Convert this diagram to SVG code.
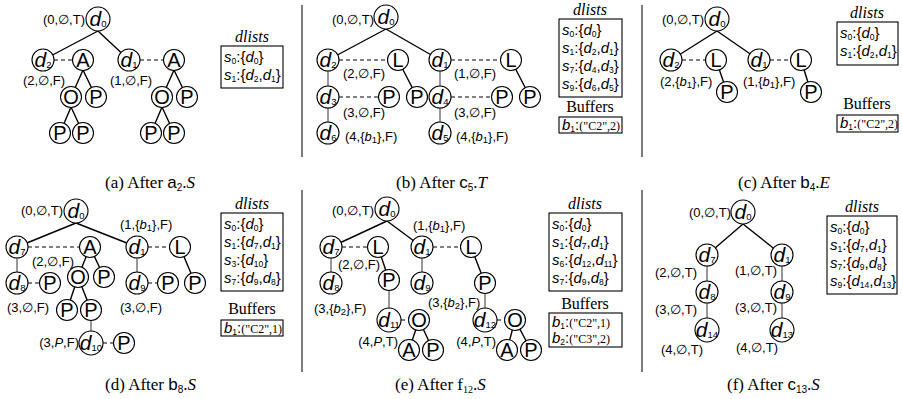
<svg xmlns="http://www.w3.org/2000/svg" width="902" height="399" viewBox="0 0 902 399">
<style>
text{font-family:"Liberation Sans",Arial,sans-serif;fill:#000}
.n{font-size:20px;text-anchor:middle}
.n tspan.it{font-size:21px}
.lb{font-size:13px}
.e{text-anchor:end}
.it{font-style:italic}
.sb{font-size:9.5px}
.rw{font-size:15px}
.rs{font-size:8.5px}
.q{font-family:"Liberation Serif","Times New Roman",serif;font-size:12px}
.cap{font-family:"Liberation Serif","Times New Roman",serif;font-size:17px}
.cs{font-family:"Liberation Sans",Arial,sans-serif}
.cb{font-size:10px}
.hd{font-family:"Liberation Serif","Times New Roman",serif;font-size:16px;text-anchor:middle}
circle{fill:#fff;stroke:#000;stroke-width:1.1}
.box{fill:none;stroke:#000;stroke-width:1.1}
.ed{stroke:#000;stroke-width:1.4;fill:none}
.vt{stroke:#333;stroke-width:1;fill:none}
.ds{stroke:#000;stroke-width:1.1;stroke-dasharray:4 3;fill:none}
.sep{stroke:#444;stroke-width:1.4}
</style>

<g id="separators">
<line class="sep" x1="302" y1="5" x2="302" y2="157"/>
<line class="sep" x1="642" y1="5" x2="642" y2="157"/>
<line class="sep" x1="302" y1="190" x2="302" y2="372"/>
<line class="sep" x1="642" y1="190" x2="642" y2="372"/>
</g>

<g id="connectors">
<!-- (a) -->
<path class="ed" d="M98,31L43,60M98,31L129,60M83,70L71,97M83,70L96,97M71,107L60,133M71,107L83,133M174,70L162,97M174,70L187,97M162,107L151,133M162,107L174,133"/>
<path class="ds" d="M54,60H72M140,60H163"/>
<!-- (b) -->
<path class="ed" d="M386,29L328,60M386,29L440,60M398,60L417,97M511,60L530,97"/>
<path class="vt" d="M328,60V133M440,60V133"/>
<path class="ds" d="M339,60H387M339,97H378M451,60H500M451,97H491"/>
<!-- (c) -->
<path class="ed" d="M717,31L671,60M717,31L759,60M716,60L727,92M801,60L811,92"/>
<path class="ds" d="M682,60H705M770,60H790"/>
<!-- (d) -->
<path class="ed" d="M76,223L17,247M76,223L137,247M90,247L78,277M90,247L104,277M78,277L67,310M78,277L91,310M180,247L195,283"/>
<path class="vt" d="M17,247V283M91,310V343M137,247V283"/>
<path class="ds" d="M28,247H79M28,283H39M103,343H113M148,247H169M148,283H157"/>
<!-- (e) -->
<path class="ed" d="M387,221L331,247M387,221L422,247M378,247L389,280M419,320L409,350M419,320L433,350M471,247L485,283M515,320L507,350M515,320L531,350"/>
<path class="vt" d="M331,247V283M389,280V320M422,247V283M485,283V320"/>
<path class="ds" d="M342,247H367M401,320H408M433,247H460M497,320H504"/>
<!-- (f) -->
<path class="ed" d="M743,224L707,255M743,224L782,255"/>
<path class="vt" d="M707,255V330M782,255V330"/>
</g>

<!-- ===== (a) ===== -->
<g id="a-d0"><circle cx="98" cy="19" r="12"/><text class="n" x="98" y="26"><tspan class="it">d</tspan><tspan class="sb" dy="1">0</tspan></text></g>
<g id="a-d2"><circle cx="43" cy="60" r="11"/><text class="n" x="43" y="67"><tspan class="it">d</tspan><tspan class="sb" dy="1">2</tspan></text></g>
<g id="a-A1"><circle cx="83" cy="60" r="10.5"/><text class="n" x="83" y="67">A</text></g>
<g id="a-d1"><circle cx="129" cy="60" r="11"/><text class="n" x="129" y="67"><tspan class="it">d</tspan><tspan class="sb" dy="1">1</tspan></text></g>
<g id="a-A2"><circle cx="174" cy="60" r="10.5"/><text class="n" x="174" y="67">A</text></g>
<g id="a-O1"><circle cx="71" cy="97" r="10.5"/><text class="n" x="71" y="104">O</text></g>
<g id="a-P1"><circle cx="96" cy="97" r="10.5"/><text class="n" x="96" y="104">P</text></g>
<g id="a-P2"><circle cx="60" cy="133" r="10.5"/><text class="n" x="60" y="140">P</text></g>
<g id="a-P3"><circle cx="83" cy="133" r="10.5"/><text class="n" x="83" y="140">P</text></g>
<g id="a-O2"><circle cx="162" cy="97" r="10.5"/><text class="n" x="162" y="104">O</text></g>
<g id="a-P4"><circle cx="187" cy="97" r="10.5"/><text class="n" x="187" y="104">P</text></g>
<g id="a-P5"><circle cx="151" cy="133" r="10.5"/><text class="n" x="151" y="140">P</text></g>
<g id="a-P6"><circle cx="174" cy="133" r="10.5"/><text class="n" x="174" y="140">P</text></g>
<g id="a-labels">
<text class="lb e" x="85" y="24">(0,∅,T)</text>
<text class="lb" x="23" y="85">(2,∅,F)</text>
<text class="lb" x="110" y="85">(1,∅,F)</text>
</g>
<g id="a-dlists">
<text class="hd it" x="252" y="42">dlists</text>
<rect class="box" x="221" y="46" width="62" height="42"/>
<text class="rw" x="224" y="62"><tspan class="it">s</tspan><tspan class="rs" dy="2">0</tspan><tspan dy="-2">:{</tspan><tspan class="it">d</tspan><tspan class="rs" dy="2">0</tspan><tspan dy="-2">}</tspan></text>
<text class="rw" x="224" y="80"><tspan class="it">s</tspan><tspan class="rs" dy="2">1</tspan><tspan dy="-2">:{</tspan><tspan class="it">d</tspan><tspan class="rs" dy="2">2</tspan><tspan dy="-2">,</tspan><tspan class="it">d</tspan><tspan class="rs" dy="2">1</tspan><tspan dy="-2">}</tspan></text>
</g>
<text class="cap" x="105" y="188">(a) After <tspan class="cs">a</tspan><tspan class="cs cb" dy="3">2</tspan><tspan dy="-3">.</tspan><tspan class="it">S</tspan></text>

<!-- ===== (b) ===== -->
<g id="b-d0"><circle cx="386" cy="17" r="12"/><text class="n" x="386" y="24"><tspan class="it">d</tspan><tspan class="sb" dy="1">0</tspan></text></g>
<g id="b-d2"><circle cx="328" cy="60" r="11"/><text class="n" x="328" y="67"><tspan class="it">d</tspan><tspan class="sb" dy="1">2</tspan></text></g>
<g id="b-L1"><circle cx="398" cy="60" r="10.5"/><text class="n" x="398" y="67">L</text></g>
<g id="b-P1"><circle cx="417" cy="97" r="10.5"/><text class="n" x="417" y="104">P</text></g>
<g id="b-d3"><circle cx="328" cy="97" r="11"/><text class="n" x="328" y="104"><tspan class="it">d</tspan><tspan class="sb" dy="1">3</tspan></text></g>
<g id="b-P2"><circle cx="389" cy="97" r="10.5"/><text class="n" x="389" y="104">P</text></g>
<g id="b-d6"><circle cx="328" cy="133" r="11"/><text class="n" x="328" y="140"><tspan class="it">d</tspan><tspan class="sb" dy="1">6</tspan></text></g>
<g id="b-d1"><circle cx="440" cy="60" r="11"/><text class="n" x="440" y="67"><tspan class="it">d</tspan><tspan class="sb" dy="1">1</tspan></text></g>
<g id="b-L2"><circle cx="511" cy="60" r="10.5"/><text class="n" x="511" y="67">L</text></g>
<g id="b-P3"><circle cx="530" cy="97" r="10.5"/><text class="n" x="530" y="104">P</text></g>
<g id="b-d4"><circle cx="440" cy="97" r="11"/><text class="n" x="440" y="104"><tspan class="it">d</tspan><tspan class="sb" dy="1">4</tspan></text></g>
<g id="b-P4"><circle cx="502" cy="97" r="10.5"/><text class="n" x="502" y="104">P</text></g>
<g id="b-d5"><circle cx="440" cy="133" r="11"/><text class="n" x="440" y="140"><tspan class="it">d</tspan><tspan class="sb" dy="1">5</tspan></text></g>
<g id="b-labels">
<text class="lb e" x="374" y="24">(0,∅,T)</text>
<text class="lb" x="343" y="78">(2,∅,F)</text>
<text class="lb" x="343" y="117">(3,∅,F)</text>
<text class="lb" x="345" y="141">(4,{<tspan class="it">b</tspan><tspan class="sb" dy="2">1</tspan><tspan dy="-2">},F)</tspan></text>
<text class="lb" x="454" y="78">(1,∅,F)</text>
<text class="lb" x="454" y="117">(3,∅,F)</text>
<text class="lb" x="456" y="141">(4,{<tspan class="it">b</tspan><tspan class="sb" dy="2">1</tspan><tspan dy="-2">},F)</tspan></text>
</g>
<g id="b-dlists">
<text class="hd it" x="590" y="15">dlists</text>
<rect class="box" x="559" y="19" width="63" height="78"/>
<text class="rw" x="562" y="35"><tspan class="it">s</tspan><tspan class="rs" dy="2">0</tspan><tspan dy="-2">:{</tspan><tspan class="it">d</tspan><tspan class="rs" dy="2">0</tspan><tspan dy="-2">}</tspan></text>
<text class="rw" x="562" y="53"><tspan class="it">s</tspan><tspan class="rs" dy="2">1</tspan><tspan dy="-2">:{</tspan><tspan class="it">d</tspan><tspan class="rs" dy="2">2</tspan><tspan dy="-2">,</tspan><tspan class="it">d</tspan><tspan class="rs" dy="2">1</tspan><tspan dy="-2">}</tspan></text>
<text class="rw" x="562" y="71"><tspan class="it">s</tspan><tspan class="rs" dy="2">7</tspan><tspan dy="-2">:{</tspan><tspan class="it">d</tspan><tspan class="rs" dy="2">4</tspan><tspan dy="-2">,</tspan><tspan class="it">d</tspan><tspan class="rs" dy="2">3</tspan><tspan dy="-2">}</tspan></text>
<text class="rw" x="562" y="89"><tspan class="it">s</tspan><tspan class="rs" dy="2">9</tspan><tspan dy="-2">:{</tspan><tspan class="it">d</tspan><tspan class="rs" dy="2">6</tspan><tspan dy="-2">,</tspan><tspan class="it">d</tspan><tspan class="rs" dy="2">5</tspan><tspan dy="-2">}</tspan></text>
</g>
<g id="b-buffers">
<text class="hd" x="590" y="112">Buffers</text>
<rect class="box" x="559" y="117" width="63" height="16"/>
<text class="rw" x="562" y="130"><tspan class="it">b</tspan><tspan class="rs" dy="2">1</tspan><tspan dy="-2">:</tspan><tspan class="q">("C2",2)</tspan></text>
</g>
<text class="cap" x="396" y="188">(b) After <tspan class="cs">c</tspan><tspan class="cs cb" dy="3">5</tspan><tspan dy="-3">.</tspan><tspan class="it">T</tspan></text>

<!-- ===== (c) ===== -->
<g id="c-d0"><circle cx="717" cy="19" r="12"/><text class="n" x="717" y="26"><tspan class="it">d</tspan><tspan class="sb" dy="1">0</tspan></text></g>
<g id="c-d2"><circle cx="671" cy="60" r="11"/><text class="n" x="671" y="67"><tspan class="it">d</tspan><tspan class="sb" dy="1">2</tspan></text></g>
<g id="c-L1"><circle cx="716" cy="60" r="10.5"/><text class="n" x="716" y="67">L</text></g>
<g id="c-P1"><circle cx="727" cy="92" r="10.5"/><text class="n" x="727" y="99">P</text></g>
<g id="c-d1"><circle cx="759" cy="60" r="11"/><text class="n" x="759" y="67"><tspan class="it">d</tspan><tspan class="sb" dy="1">1</tspan></text></g>
<g id="c-L2"><circle cx="801" cy="60" r="10.5"/><text class="n" x="801" y="67">L</text></g>
<g id="c-P2"><circle cx="811" cy="92" r="10.5"/><text class="n" x="811" y="99">P</text></g>
<g id="c-labels">
<text class="lb e" x="704" y="24">(0,∅,T)</text>
<text class="lb" x="660" y="86">(2,{<tspan class="it">b</tspan><tspan class="sb" dy="2">1</tspan><tspan dy="-2">},F)</tspan></text>
<text class="lb" x="743" y="86">(1,{<tspan class="it">b</tspan><tspan class="sb" dy="2">1</tspan><tspan dy="-2">},F)</tspan></text>
</g>
<g id="c-dlists">
<text class="hd it" x="867" y="18">dlists</text>
<rect class="box" x="837" y="22" width="61" height="43"/>
<text class="rw" x="840" y="38"><tspan class="it">s</tspan><tspan class="rs" dy="2">0</tspan><tspan dy="-2">:{</tspan><tspan class="it">d</tspan><tspan class="rs" dy="2">0</tspan><tspan dy="-2">}</tspan></text>
<text class="rw" x="840" y="56"><tspan class="it">s</tspan><tspan class="rs" dy="2">1</tspan><tspan dy="-2">:{</tspan><tspan class="it">d</tspan><tspan class="rs" dy="2">2</tspan><tspan dy="-2">,</tspan><tspan class="it">d</tspan><tspan class="rs" dy="2">1</tspan><tspan dy="-2">}</tspan></text>
</g>
<g id="c-buffers">
<text class="hd" x="867" y="109">Buffers</text>
<rect class="box" x="837" y="115" width="61" height="17"/>
<text class="rw" x="840" y="128"><tspan class="it">b</tspan><tspan class="rs" dy="2">1</tspan><tspan dy="-2">:</tspan><tspan class="q">("C2",2)</tspan></text>
</g>
<text class="cap" x="738" y="188">(c) After <tspan class="cs">b</tspan><tspan class="cs cb" dy="3">4</tspan><tspan dy="-3">.</tspan><tspan class="it">E</tspan></text>

<!-- ===== (d) ===== -->
<g id="d-d0"><circle cx="76" cy="211" r="12"/><text class="n" x="76" y="218"><tspan class="it">d</tspan><tspan class="sb" dy="1">0</tspan></text></g>
<g id="d-d7"><circle cx="17" cy="247" r="11"/><text class="n" x="17" y="254"><tspan class="it">d</tspan><tspan class="sb" dy="1">7</tspan></text></g>
<g id="d-A"><circle cx="90" cy="247" r="10.5"/><text class="n" x="90" y="254">A</text></g>
<g id="d-d1"><circle cx="137" cy="247" r="11"/><text class="n" x="137" y="254"><tspan class="it">d</tspan><tspan class="sb" dy="1">1</tspan></text></g>
<g id="d-L"><circle cx="180" cy="247" r="10.5"/><text class="n" x="180" y="254">L</text></g>
<g id="d-O"><circle cx="78" cy="277" r="10.5"/><text class="n" x="78" y="284">O</text></g>
<g id="d-P1"><circle cx="104" cy="277" r="10.5"/><text class="n" x="104" y="284">P</text></g>
<g id="d-d8"><circle cx="17" cy="283" r="11"/><text class="n" x="17" y="290"><tspan class="it">d</tspan><tspan class="sb" dy="1">8</tspan></text></g>
<g id="d-P2"><circle cx="50" cy="283" r="10.5"/><text class="n" x="50" y="290">P</text></g>
<g id="d-P3"><circle cx="67" cy="310" r="10.5"/><text class="n" x="67" y="317">P</text></g>
<g id="d-P4"><circle cx="91" cy="310" r="10.5"/><text class="n" x="91" y="317">P</text></g>
<g id="d-d10"><circle cx="91" cy="343" r="12"/><text class="n" x="91" y="350"><tspan class="it">d</tspan><tspan class="sb" dy="1">10</tspan></text></g>
<g id="d-P5"><circle cx="124" cy="343" r="10.5"/><text class="n" x="124" y="350">P</text></g>
<g id="d-d9"><circle cx="137" cy="283" r="11"/><text class="n" x="137" y="290"><tspan class="it">d</tspan><tspan class="sb" dy="1">9</tspan></text></g>
<g id="d-P6"><circle cx="168" cy="283" r="10.5"/><text class="n" x="168" y="290">P</text></g>
<g id="d-P7"><circle cx="195" cy="283" r="10.5"/><text class="n" x="195" y="290">P</text></g>
<g id="d-labels">
<text class="lb e" x="63" y="215">(0,∅,T)</text>
<text class="lb" x="120" y="229">(1,{<tspan class="it">b</tspan><tspan class="sb" dy="2">1</tspan><tspan dy="-2">},F)</tspan></text>
<text class="lb" x="32" y="266">(2,∅,F)</text>
<text class="lb" x="7" y="312">(3,∅,F)</text>
<text class="lb" x="120" y="312">(3,∅,F)</text>
<text class="lb e" x="79" y="347">(3,<tspan class="it">P</tspan>,F)</text>
</g>
<g id="d-dlists">
<text class="hd it" x="252" y="209">dlists</text>
<rect class="box" x="221" y="213" width="62" height="78"/>
<text class="rw" x="224" y="229"><tspan class="it">s</tspan><tspan class="rs" dy="2">0</tspan><tspan dy="-2">:{</tspan><tspan class="it">d</tspan><tspan class="rs" dy="2">0</tspan><tspan dy="-2">}</tspan></text>
<text class="rw" x="224" y="247"><tspan class="it">s</tspan><tspan class="rs" dy="2">1</tspan><tspan dy="-2">:{</tspan><tspan class="it">d</tspan><tspan class="rs" dy="2">7</tspan><tspan dy="-2">,</tspan><tspan class="it">d</tspan><tspan class="rs" dy="2">1</tspan><tspan dy="-2">}</tspan></text>
<text class="rw" x="224" y="265"><tspan class="it">s</tspan><tspan class="rs" dy="2">3</tspan><tspan dy="-2">:{</tspan><tspan class="it">d</tspan><tspan class="rs" dy="2">10</tspan><tspan dy="-2">}</tspan></text>
<text class="rw" x="224" y="283"><tspan class="it">s</tspan><tspan class="rs" dy="2">7</tspan><tspan dy="-2">:{</tspan><tspan class="it">d</tspan><tspan class="rs" dy="2">9</tspan><tspan dy="-2">,</tspan><tspan class="it">d</tspan><tspan class="rs" dy="2">8</tspan><tspan dy="-2">}</tspan></text>
</g>
<g id="d-buffers">
<text class="hd" x="252" y="314">Buffers</text>
<rect class="box" x="221" y="320" width="62" height="16"/>
<text class="rw" x="224" y="333"><tspan class="it">b</tspan><tspan class="rs" dy="2">1</tspan><tspan dy="-2">:</tspan><tspan class="q">("C2",1)</tspan></text>
</g>
<text class="cap" x="105" y="390">(d) After <tspan class="cs">b</tspan><tspan class="cs cb" dy="3">8</tspan><tspan dy="-3">.</tspan><tspan class="it">S</tspan></text>

<!-- ===== (e) ===== -->
<g id="e-d0"><circle cx="387" cy="209" r="12"/><text class="n" x="387" y="216"><tspan class="it">d</tspan><tspan class="sb" dy="1">0</tspan></text></g>
<g id="e-d7"><circle cx="331" cy="247" r="11"/><text class="n" x="331" y="254"><tspan class="it">d</tspan><tspan class="sb" dy="1">7</tspan></text></g>
<g id="e-L1"><circle cx="378" cy="247" r="10.5"/><text class="n" x="378" y="254">L</text></g>
<g id="e-P1"><circle cx="389" cy="280" r="10.5"/><text class="n" x="389" y="287">P</text></g>
<g id="e-d8"><circle cx="331" cy="283" r="11"/><text class="n" x="331" y="290"><tspan class="it">d</tspan><tspan class="sb" dy="1">8</tspan></text></g>
<g id="e-d11"><circle cx="389" cy="320" r="12"/><text class="n" x="389" y="327"><tspan class="it">d</tspan><tspan class="sb" dy="1">11</tspan></text></g>
<g id="e-O1"><circle cx="419" cy="320" r="10.5"/><text class="n" x="419" y="327">O</text></g>
<g id="e-A1"><circle cx="409" cy="350" r="10.5"/><text class="n" x="409" y="357">A</text></g>
<g id="e-P2"><circle cx="433" cy="350" r="10.5"/><text class="n" x="433" y="357">P</text></g>
<g id="e-d1"><circle cx="422" cy="247" r="11"/><text class="n" x="422" y="254"><tspan class="it">d</tspan><tspan class="sb" dy="1">1</tspan></text></g>
<g id="e-L2"><circle cx="471" cy="247" r="10.5"/><text class="n" x="471" y="254">L</text></g>
<g id="e-P3"><circle cx="485" cy="283" r="10.5"/><text class="n" x="485" y="290">P</text></g>
<g id="e-d9"><circle cx="422" cy="283" r="11"/><text class="n" x="422" y="290"><tspan class="it">d</tspan><tspan class="sb" dy="1">9</tspan></text></g>
<g id="e-d12"><circle cx="485" cy="320" r="12"/><text class="n" x="485" y="327"><tspan class="it">d</tspan><tspan class="sb" dy="1">12</tspan></text></g>
<g id="e-O2"><circle cx="515" cy="320" r="10.5"/><text class="n" x="515" y="327">O</text></g>
<g id="e-A2"><circle cx="507" cy="350" r="10.5"/><text class="n" x="507" y="357">A</text></g>
<g id="e-P4"><circle cx="531" cy="350" r="10.5"/><text class="n" x="531" y="357">P</text></g>
<g id="e-labels">
<text class="lb e" x="374" y="215">(0,∅,T)</text>
<text class="lb" x="413" y="230">(1,{<tspan class="it">b</tspan><tspan class="sb" dy="2">1</tspan><tspan dy="-2">},F)</tspan></text>
<text class="lb" x="338" y="269">(2,∅,F)</text>
<text class="lb" x="314" y="313">(3,{<tspan class="it">b</tspan><tspan class="sb" dy="2">2</tspan><tspan dy="-2">},F)</tspan></text>
<text class="lb" x="428" y="307">(3,{<tspan class="it">b</tspan><tspan class="sb" dy="2">2</tspan><tspan dy="-2">},F)</tspan></text>
<text class="lb e" x="398" y="346">(4,<tspan class="it">P</tspan>,T)</text>
<text class="lb e" x="496" y="346">(4,<tspan class="it">P</tspan>,T)</text>
</g>
<g id="e-dlists">
<text class="hd it" x="585" y="209">dlists</text>
<rect class="box" x="549" y="213" width="73" height="78"/>
<text class="rw" x="552" y="229"><tspan class="it">s</tspan><tspan class="rs" dy="2">0</tspan><tspan dy="-2">:{</tspan><tspan class="it">d</tspan><tspan class="rs" dy="2">0</tspan><tspan dy="-2">}</tspan></text>
<text class="rw" x="552" y="247"><tspan class="it">s</tspan><tspan class="rs" dy="2">1</tspan><tspan dy="-2">:{</tspan><tspan class="it">d</tspan><tspan class="rs" dy="2">7</tspan><tspan dy="-2">,</tspan><tspan class="it">d</tspan><tspan class="rs" dy="2">1</tspan><tspan dy="-2">}</tspan></text>
<text class="rw" x="552" y="265"><tspan class="it">s</tspan><tspan class="rs" dy="2">6</tspan><tspan dy="-2">:{</tspan><tspan class="it">d</tspan><tspan class="rs" dy="2">12</tspan><tspan dy="-2">,</tspan><tspan class="it">d</tspan><tspan class="rs" dy="2">11</tspan><tspan dy="-2">}</tspan></text>
<text class="rw" x="552" y="283"><tspan class="it">s</tspan><tspan class="rs" dy="2">7</tspan><tspan dy="-2">:{</tspan><tspan class="it">d</tspan><tspan class="rs" dy="2">9</tspan><tspan dy="-2">,</tspan><tspan class="it">d</tspan><tspan class="rs" dy="2">8</tspan><tspan dy="-2">}</tspan></text>
</g>
<g id="e-buffers">
<text class="hd" x="585" y="309">Buffers</text>
<rect class="box" x="549" y="313" width="73" height="34"/>
<text class="rw" x="552" y="327"><tspan class="it">b</tspan><tspan class="rs" dy="2">1</tspan><tspan dy="-2">:</tspan><tspan class="q">("C2",1)</tspan></text>
<text class="rw" x="552" y="343"><tspan class="it">b</tspan><tspan class="rs" dy="2">2</tspan><tspan dy="-2">:</tspan><tspan class="q">("C3",2)</tspan></text>
</g>
<text class="cap" x="395" y="390">(e) After f<tspan class="cb" dy="3">12</tspan><tspan dy="-3">.</tspan><tspan class="it">S</tspan></text>

<!-- ===== (f) ===== -->
<g id="f-d0"><circle cx="743" cy="212" r="12"/><text class="n" x="743" y="219"><tspan class="it">d</tspan><tspan class="sb" dy="1">0</tspan></text></g>
<g id="f-d7"><circle cx="707" cy="255" r="11"/><text class="n" x="707" y="262"><tspan class="it">d</tspan><tspan class="sb" dy="1">7</tspan></text></g>
<g id="f-d8"><circle cx="707" cy="292" r="11"/><text class="n" x="707" y="299"><tspan class="it">d</tspan><tspan class="sb" dy="1">8</tspan></text></g>
<g id="f-d14"><circle cx="707" cy="330" r="12"/><text class="n" x="707" y="337"><tspan class="it">d</tspan><tspan class="sb" dy="1">14</tspan></text></g>
<g id="f-d1"><circle cx="782" cy="255" r="11"/><text class="n" x="782" y="262"><tspan class="it">d</tspan><tspan class="sb" dy="1">1</tspan></text></g>
<g id="f-d9"><circle cx="782" cy="292" r="11"/><text class="n" x="782" y="299"><tspan class="it">d</tspan><tspan class="sb" dy="1">9</tspan></text></g>
<g id="f-d13"><circle cx="782" cy="330" r="12"/><text class="n" x="782" y="337"><tspan class="it">d</tspan><tspan class="sb" dy="1">13</tspan></text></g>
<g id="f-labels">
<text class="lb e" x="731" y="217">(0,∅,T)</text>
<text class="lb e" x="697" y="277">(2,∅,T)</text>
<text class="lb e" x="697" y="314">(3,∅,T)</text>
<text class="lb e" x="703" y="354">(4,∅,T)</text>
<text class="lb e" x="777" y="275">(1,∅,T)</text>
<text class="lb e" x="777" y="312">(3,∅,T)</text>
<text class="lb e" x="778" y="352">(4,∅,T)</text>
</g>
<g id="f-dlists">
<text class="hd it" x="862" y="212">dlists</text>
<rect class="box" x="827" y="216" width="70" height="78"/>
<text class="rw" x="830" y="232"><tspan class="it">s</tspan><tspan class="rs" dy="2">0</tspan><tspan dy="-2">:{</tspan><tspan class="it">d</tspan><tspan class="rs" dy="2">0</tspan><tspan dy="-2">}</tspan></text>
<text class="rw" x="830" y="250"><tspan class="it">s</tspan><tspan class="rs" dy="2">1</tspan><tspan dy="-2">:{</tspan><tspan class="it">d</tspan><tspan class="rs" dy="2">7</tspan><tspan dy="-2">,</tspan><tspan class="it">d</tspan><tspan class="rs" dy="2">1</tspan><tspan dy="-2">}</tspan></text>
<text class="rw" x="830" y="268"><tspan class="it">s</tspan><tspan class="rs" dy="2">7</tspan><tspan dy="-2">:{</tspan><tspan class="it">d</tspan><tspan class="rs" dy="2">9</tspan><tspan dy="-2">,</tspan><tspan class="it">d</tspan><tspan class="rs" dy="2">8</tspan><tspan dy="-2">}</tspan></text>
<text class="rw" x="830" y="286"><tspan class="it">s</tspan><tspan class="rs" dy="2">9</tspan><tspan dy="-2">:{</tspan><tspan class="it">d</tspan><tspan class="rs" dy="2">14</tspan><tspan dy="-2">,</tspan><tspan class="it">d</tspan><tspan class="rs" dy="2">13</tspan><tspan dy="-2">}</tspan></text>
</g>
<text class="cap" x="727" y="390">(f) After <tspan class="cs">c</tspan><tspan class="cs cb" dy="3">13</tspan><tspan dy="-3">.</tspan><tspan class="it">S</tspan></text>
</svg>
